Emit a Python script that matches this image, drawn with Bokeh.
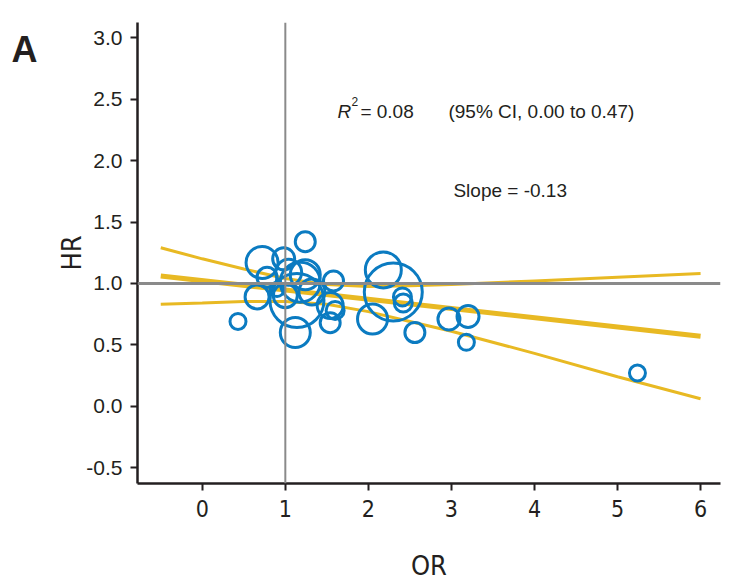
from bokeh.plotting import figure
from bokeh.models import Span, Label, FixedTicker, NumeralTickFormatter, Range1d
from bokeh.layouts import row
from bokeh.core.properties import value
from bokeh.embed import file_html
from bokeh.resources import INLINE

# ---- data ----
or_vals = [0.43, 0.72, 0.98, 1.24, 0.78, 0.66, 1.18, 1.14, 1.12, 1.58, 1.54, 1.60, 1.54,
           1.00, 0.90, 1.32, 1.24, 1.04, 2.30, 2.18, 2.41, 2.42, 2.05, 2.56, 2.97, 3.20,
           3.18, 5.24]
hr_vals = [0.69, 1.17, 1.20, 1.34, 1.05, 0.89, 1.01, 0.86, 0.60, 1.02, 0.82, 0.78, 0.68,
           0.90, 0.95, 0.93, 1.07, 1.09, 0.93, 1.11, 0.89, 0.84, 0.71, 0.60, 0.71, 0.73,
           0.52, 0.27]
study_weight = [8, 16, 11, 10, 10, 12, 20, 27, 15, 10, 13, 9, 10,
                12, 7, 13, 15, 13, 29, 18, 9, 9, 15, 10, 11, 11,
                8, 8]

fit_x = [-0.5, 6.0]
fit_y = [1.06, 0.57]
ci_x = [-0.5, 0.0, 0.5, 1.0, 1.5, 2.0, 2.5, 3.0, 4.0, 5.0, 6.0]
ci_upper = [1.29, 1.20, 1.117, 1.04, 0.99, 0.975, 0.98, 0.99, 1.02, 1.05, 1.08]
ci_lower = [0.83, 0.84, 0.853, 0.853, 0.83, 0.77, 0.69, 0.61, 0.43, 0.24, 0.06]

x_ticks = [0, 1, 2, 3, 4, 5, 6]
y_ticks = [-0.5, 0.0, 0.5, 1.0, 1.5, 2.0, 2.5, 3.0]
panel_letter = ["A"]

INK = "#231f20"
GOLD = "#E8B923"
BLUE = "#0B7BC1"
GREY = "#8a8a8a"
NARROW = "'Liberation Sans Narrow', 'DejaVu Sans Condensed', sans-serif"

LEFT_W = 45

# ---- panel letter strip ----
pa = figure(width=LEFT_W, height=583, x_range=Range1d(0, LEFT_W), y_range=Range1d(0, 583),
            output_backend="svg", toolbar_location=None, min_border=0,
            x_axis_location=None, y_axis_location=None)
pa.xgrid.visible = False
pa.ygrid.visible = False
pa.outline_line_color = None
pa.text(x=[11], y=[583 - 34], text=panel_letter, text_font=value("Liberation Sans"),
        text_font_style="bold", text_font_size="36px", text_color=INK,
        text_baseline="alphabetic", text_align="left")

# ---- main chart ----
p = figure(width=731 - LEFT_W, height=583, x_range=Range1d(-0.78, 6.24), y_range=Range1d(-0.63, 3.125),
           output_backend="svg", toolbar_location=None,
           min_border_left=137 - LEFT_W, min_border_right=11, min_border_top=22, min_border_bottom=100)
p.xgrid.visible = False
p.ygrid.visible = False
p.outline_line_color = None
p.background_fill_color = "white"
p.border_fill_color = "white"

# regression line and CI
p.line(ci_x, ci_upper, line_color=GOLD, line_width=3)
p.line(ci_x, ci_lower, line_color=GOLD, line_width=3)
p.line(fit_x, fit_y, line_color=GOLD, line_width=5)

# studies
p.scatter(or_vals, hr_vals, size=[2 * w for w in study_weight], marker="circle",
          fill_color=None, line_color=BLUE, line_width=3)

# reference lines
p.add_layout(Span(location=1.0, dimension="width", line_color=GREY, line_width=3))
p.add_layout(Span(location=1.0, dimension="height", line_color=GREY, line_width=2))

# axes
p.xaxis.ticker = FixedTicker(ticks=x_ticks)
p.yaxis.ticker = FixedTicker(ticks=y_ticks)
p.yaxis.formatter = NumeralTickFormatter(format="0.0")
for ax in (p.xaxis, p.yaxis):
    ax.axis_line_color = INK
    ax.axis_line_width = 2.5
    ax.major_tick_line_color = INK
    ax.major_tick_line_width = 2
    ax.major_tick_out = 7
    ax.major_tick_in = 0
    ax.minor_tick_out = 0
    ax.minor_tick_in = 0
    ax.major_label_text_color = INK
    ax.axis_label_text_color = INK
    ax.axis_label_text_font = NARROW
    ax.axis_label_text_font_size = "27px"
    ax.axis_label_text_font_style = "normal"

p.yaxis.major_label_text_font = "Liberation Sans"
p.yaxis.major_label_text_font_size = "21px"
p.yaxis.major_label_standoff = 8
p.xaxis.major_label_text_font = NARROW
p.xaxis.major_label_text_font_size = "23px"
p.xaxis.major_label_standoff = 9
p.xaxis.axis_label = "OR"
p.yaxis.axis_label = "HR"
p.xaxis.axis_label_standoff = 30
p.yaxis.axis_label_standoff = -4

# annotations
txt = dict(text_color=INK, text_font="Liberation Sans", text_baseline="alphabetic")
p.add_layout(Label(x=1.627, y=2.40, text="R", text_font_size="19px", text_font_style="italic", **txt))
p.add_layout(Label(x=1.627, y=2.40, x_offset=14, y_offset=10, text="2", text_font_size="12px", **txt))
p.add_layout(Label(x=1.627, y=2.40, x_offset=23, text="= 0.08", text_font_size="19px", **txt))
p.add_layout(Label(x=2.964, y=2.40, text="(95% CI, 0.00 to 0.47)", text_font_size="19px", **txt))
p.add_layout(Label(x=3.024, y=1.757, text="Slope = -0.13", text_font_size="19px", **txt))

layout = row(pa, p, spacing=0)
open("out.html", "w").write(file_html(layout, INLINE))
